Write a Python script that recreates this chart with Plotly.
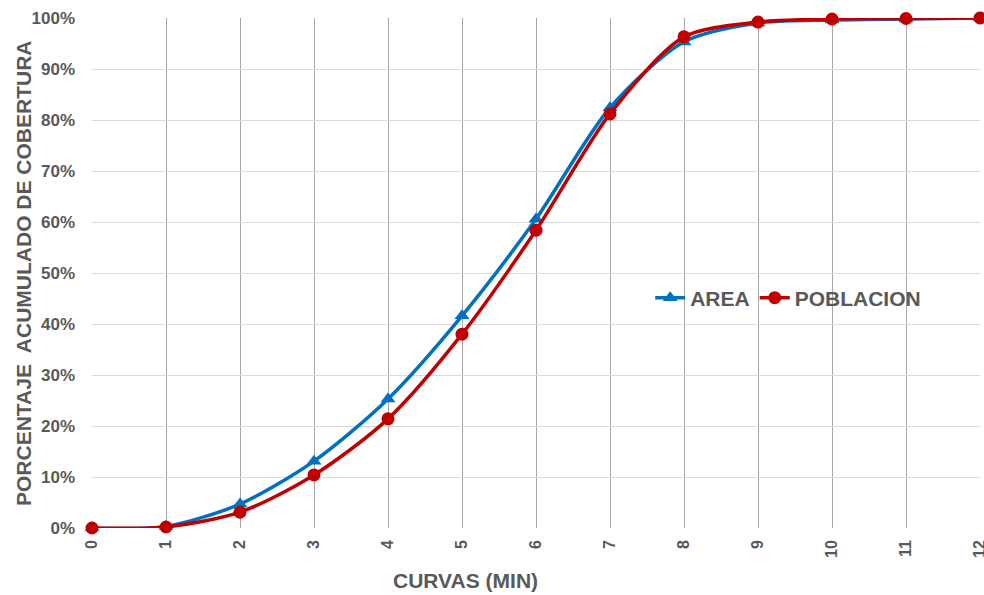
import plotly.graph_objects as go

minutes = [0, 1, 2, 3, 4, 5, 6, 7, 8, 9, 10, 11, 12]
area = [0.0, 0.3, 4.7, 13.1, 25.3, 41.6, 60.6, 82.4, 95.3, 99.0, 99.6, 99.8, 100.0]
poblacion = [0.0, 0.2, 3.1, 10.4, 21.4, 38.0, 58.4, 81.2, 96.3, 99.2, 99.8, 99.9, 100.0]
y_ticks = list(range(0, 101, 10))
y_labels = [f"{v}%" for v in y_ticks]

FONT = "Liberation Sans, Arial, sans-serif"
GRAY = "#595959"

fig = go.Figure()
fig.add_trace(go.Scatter(
    x=minutes, y=area, name="AREA", mode="lines+markers",
    line=dict(color="#0070C0", width=3.5, shape="spline", smoothing=0.8),
    marker=dict(symbol="triangle-up", size=13, color="#0070C0"),
    cliponaxis=False,
))
fig.add_trace(go.Scatter(
    x=minutes, y=poblacion, name="POBLACION", mode="lines+markers",
    line=dict(color="#C00000", width=3.5, shape="spline", smoothing=0.8),
    marker=dict(symbol="circle", size=13, color="#C00000"),
    cliponaxis=False,
))

fig.add_shape(type="rect", xref="paper", yref="paper",
              x0=0.634, x1=0.932, y0=0.345, y1=0.555,
              fillcolor="white", line=dict(width=0), layer="between")

fig.add_annotation(text="CURVAS (MIN)", xref="paper", yref="paper",
                   x=0.421, y=-0.102, xanchor="center", yanchor="middle",
                   showarrow=False,
                   font=dict(family=FONT, size=21, color=GRAY, weight="bold"))
fig.add_annotation(text="PORCENTAJE  ACUMULADO DE COBERTURA", xref="paper", yref="paper",
                   x=-0.0777, y=0.5, xanchor="center", yanchor="middle",
                   textangle=-90, showarrow=False,
                   font=dict(family=FONT, size=21, color=GRAY, weight="bold"))

fig.update_layout(
    width=984, height=595,
    margin=dict(l=92, r=4, t=18, b=67, autoexpand=False),
    paper_bgcolor="white", plot_bgcolor="white",
    font=dict(family=FONT, color=GRAY),
    showlegend=True,
    legend=dict(orientation="h", x=0.784, y=0.451, xanchor="center", yanchor="middle",
                bgcolor="rgba(0,0,0,0)",
                font=dict(family=FONT, size=21, color=GRAY, weight="bold"),
                itemwidth=30, tracegroupgap=0),
)
fig.update_xaxes(
    range=[0, 12], tickvals=minutes, ticktext=[str(m) for m in minutes],
    tickangle=-90, showgrid=True, gridcolor="#A6A6A6", gridwidth=1,
    zeroline=False, showline=False, ticks="", automargin=False,
    ticklabelstandoff=8, ticklabeloverflow="allow",
    tickfont=dict(family=FONT, size=16, color=GRAY, weight="bold"),
)
fig.update_yaxes(
    range=[0, 100], tickvals=y_ticks, ticktext=y_labels,
    showgrid=True, gridcolor="#D9D9D9", gridwidth=1,
    zeroline=False, showline=False, ticks="", automargin=False,
    ticklabelstandoff=16,
    tickfont=dict(family=FONT, size=17, color=GRAY, weight="bold"),
)

fig.write_html("out.html")
